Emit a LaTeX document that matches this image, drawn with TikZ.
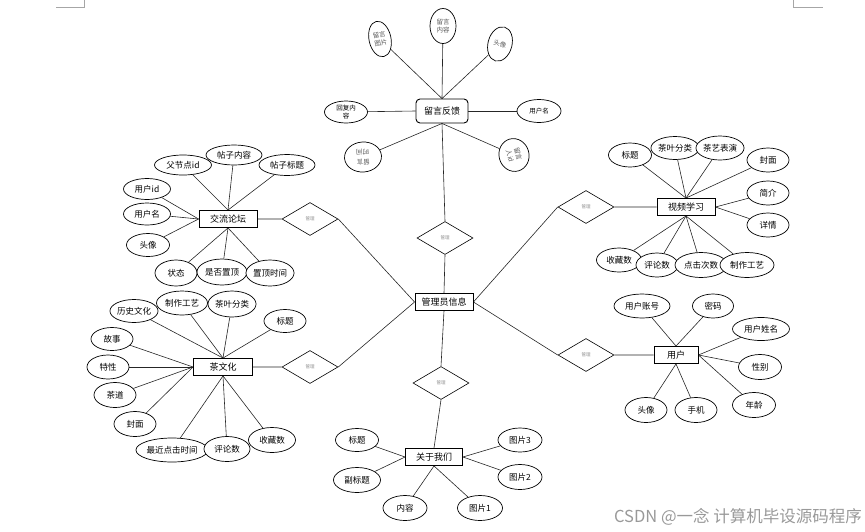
\documentclass[tikz,border=0pt]{standalone}
\usepackage{fontspec}
\setmainfont{Noto Sans CJK SC}
\usetikzlibrary{positioning,shapes.geometric,backgrounds}

\tikzset{
  entity/.style={draw,fill=white,line width=0.9pt,minimum height=17pt,inner sep=1pt,font=\fontsize{9}{10}\selectfont},
  attr/.style={ellipse,draw,fill=white,line width=0.7pt,inner sep=0pt,align=center},
  tilted/.style={attr,font=\fontsize{6.5}{8.5}\selectfont,text=black!65},
  rel/.style={diamond,draw,fill=white,line width=0.6pt,minimum width=56pt,minimum height=33pt,inner sep=0pt,font=\fontsize{4.5}{5}\selectfont,text=black!45},
  link/.style={draw,line width=0.6pt,black!85}
}

\begin{document}
\begin{tikzpicture}[x=1pt,y=-1pt,font=\fontsize{8.5}{10}\selectfont]
\useasboundingbox (0,0) rectangle (865,531);

% page corner marks
\draw[black!35,line width=0.6pt] (56,7) -- (84,7) -- (84,0);
\draw[black!35,line width=0.6pt] (793,0) -- (793,7) -- (823,7);

% Entities
\node[entity,rounded corners=4pt,minimum width=52pt,minimum height=24pt] (fb) at (442,111) {留言反馈};
\node[entity,minimum width=58pt] (forum) at (228,219) {交流论坛};
\node[entity,minimum width=58pt] (video) at (686,207) {视频学习};
\node[entity,minimum width=58pt] (admin) at (444,302) {管理员信息};
\node[entity,minimum width=59pt] (tea) at (223,367) {茶文化};
\node[entity,minimum width=44pt] (user) at (676,355) {用户};
\node[entity,minimum width=57pt] (about) at (434,457) {关于我们};

% Relations
\node[rel] (r1) at (445,238) {管理};
\node[rel] (r2) at (310,219) {管理};
\node[rel] (r3) at (586,207) {管理};
\node[rel] (r4) at (310,367) {管理};
\node[rel] (r5) at (586,355) {管理};
\node[rel] (r6) at (441,383) {管理};

\begin{scope}[on background layer]
\draw[link] (admin.north) -- (r1.south) (r1.north) -- (fb.south);
\draw[link] (admin.west) -- (r2.east) (r2.west) -- (forum.east);
\draw[link] (admin.west) -- (r4.east) (r4.west) -- (tea.east);
\draw[link] (admin.east) -- (r3.west) (r3.east) -- (video.west);
\draw[link] (admin.east) -- (r5.west) (r5.east) -- (user.west);
\draw[link] (admin.south) -- (r6.north) (r6.south) -- (about.north);
\end{scope}

% Feedback attributes (tilted ellipses)
\node[tilted,minimum width=22pt,minimum height=36pt,rotate=12] (fb1) at (380,39) {留言\\图片};
\node[tilted,minimum width=26pt,minimum height=35pt] (fb2) at (443,26) {留言\\内容};
\node[tilted,minimum width=24pt,minimum height=35pt,rotate=-15] (fb3) at (500,44) {头像};
\node[tilted,minimum width=43pt,minimum height=22pt,text=black] (fb4) at (346,112) {回复内\\容};
\node[tilted,minimum width=44pt,minimum height=23pt,text=black] (fb5) at (539,111) {用户名};
\node[tilted,minimum width=37pt,minimum height=30pt,rotate=184,font=\fontsize{6.5}{10}\selectfont] (fb6) at (363,157) {留言\\时间};
\node[tilted,minimum width=33pt,minimum height=30pt,rotate=-75] (fb7) at (514,155) {留言\\人id};
\begin{scope}[on background layer]
\foreach \a/\anc in {fb1/north,fb2/north,fb3/north,fb4/west,fb5/east,fb6/south,fb7/south}
  \draw[link] (fb.\anc) -- (\a);
\end{scope}

% Forum attributes
\foreach \i/\x/\y/\w/\h/\anc/\txt in {
  1/183/165/57/20/north/父节点id, 2/234/155/56/20/north/帖子内容, 3/287/165/56/21/north/帖子标题,
  4/147/189/47/21/west/用户id, 5/147/214/47/22/west/用户名, 6/148/245/43/23/west/头像,
  7/176/273/42/26/south/状态, 8/222/272/50/26/south/是否置顶, 9/270/273/46/26/south/置顶时间} {
  \node[attr,minimum width=\w pt,minimum height=\h pt] (f\i) at (\x,\y) {\txt};
  \begin{pgfonlayer}{background}
    \draw[link] (forum.\anc) -- (f\i);
  \end{pgfonlayer}
}

% Video attributes
\foreach \i/\x/\y/\w/\h/\anc/\txt in {
  1/630/155/43/24/north/标题, 2/675/148/46/23/north/茶叶分类, 3/720/148/46/24/north/茶艺表演,
  4/768/160/42/24/north/封面, 5/768/193/42/24/east/简介, 6/768/225/42/24/east/详情,
  7/619/260/45/24/south/收藏数, 8/657/265/42/24/south/评论数, 9/701/265/52/25/south/点击次数,
  10/747/265/54/25/south/制作工艺} {
  \node[attr,minimum width=\w pt,minimum height=\h pt] (v\i) at (\x,\y) {\txt};
  \begin{pgfonlayer}{background}
    \draw[link] (video.\anc) -- (v\i);
  \end{pgfonlayer}
}

% Tea culture attributes
\foreach \i/\x/\y/\w/\h/\anc/\txt in {
  1/134/311/48/23/north/历史文化, 2/182/303/51/24/north/制作工艺, 3/232/304/47/26/north/茶叶分类,
  4/285/321/42/23/north/标题, 5/112/339/42/23/west/故事, 6/108/367/42/24/west/特性,
  7/115/395/42/25/west/茶道, 8/135/424/42/25/west/封面, 9/172/450/70/24/south/最近点击时间,
  10/227/449/46/25/south/评论数, 11/272/440/47/25/south/收藏数} {
  \node[attr,minimum width=\w pt,minimum height=\h pt] (t\i) at (\x,\y) {\txt};
  \begin{pgfonlayer}{background}
    \draw[link] (tea.\anc) -- (t\i);
  \end{pgfonlayer}
}

% User attributes
\foreach \i/\x/\y/\w/\h/\anc/\txt in {
  1/642/306/56/24/north/用户账号, 2/713/306/41/24/north/密码, 3/761/329/57/23/east/用户姓名,
  4/760/367/43/25/east/性别, 5/754/405/43/25/east/年龄, 6/646/410/42/25/south/头像,
  7/696/410/42/25/south/手机} {
  \node[attr,minimum width=\w pt,minimum height=\h pt] (u\i) at (\x,\y) {\txt};
  \begin{pgfonlayer}{background}
    \draw[link] (user.\anc) -- (u\i);
  \end{pgfonlayer}
}

% About attributes
\foreach \i/\x/\y/\w/\h/\anc/\txt in {
  1/357/440/43/23/west/标题, 2/357/480/47/25/west/副标题, 3/405/508/44/25/south/内容,
  4/480/508/45/25/south/图片1, 5/520/440/44/24/east/图片3, 6/520/477/44/25/east/图片2} {
  \node[attr,minimum width=\w pt,minimum height=\h pt] (a\i) at (\x,\y) {\txt};
  \begin{pgfonlayer}{background}
    \draw[link] (about.\anc) -- (a\i);
  \end{pgfonlayer}
}

% watermark
\node[anchor=east,text=black!40,font=\fontsize{16.5}{17}\selectfont,inner sep=0pt] (mark) at (862,517) {CSDN @一念 计算机毕设源码程序};
\end{tikzpicture}
\end{document}
